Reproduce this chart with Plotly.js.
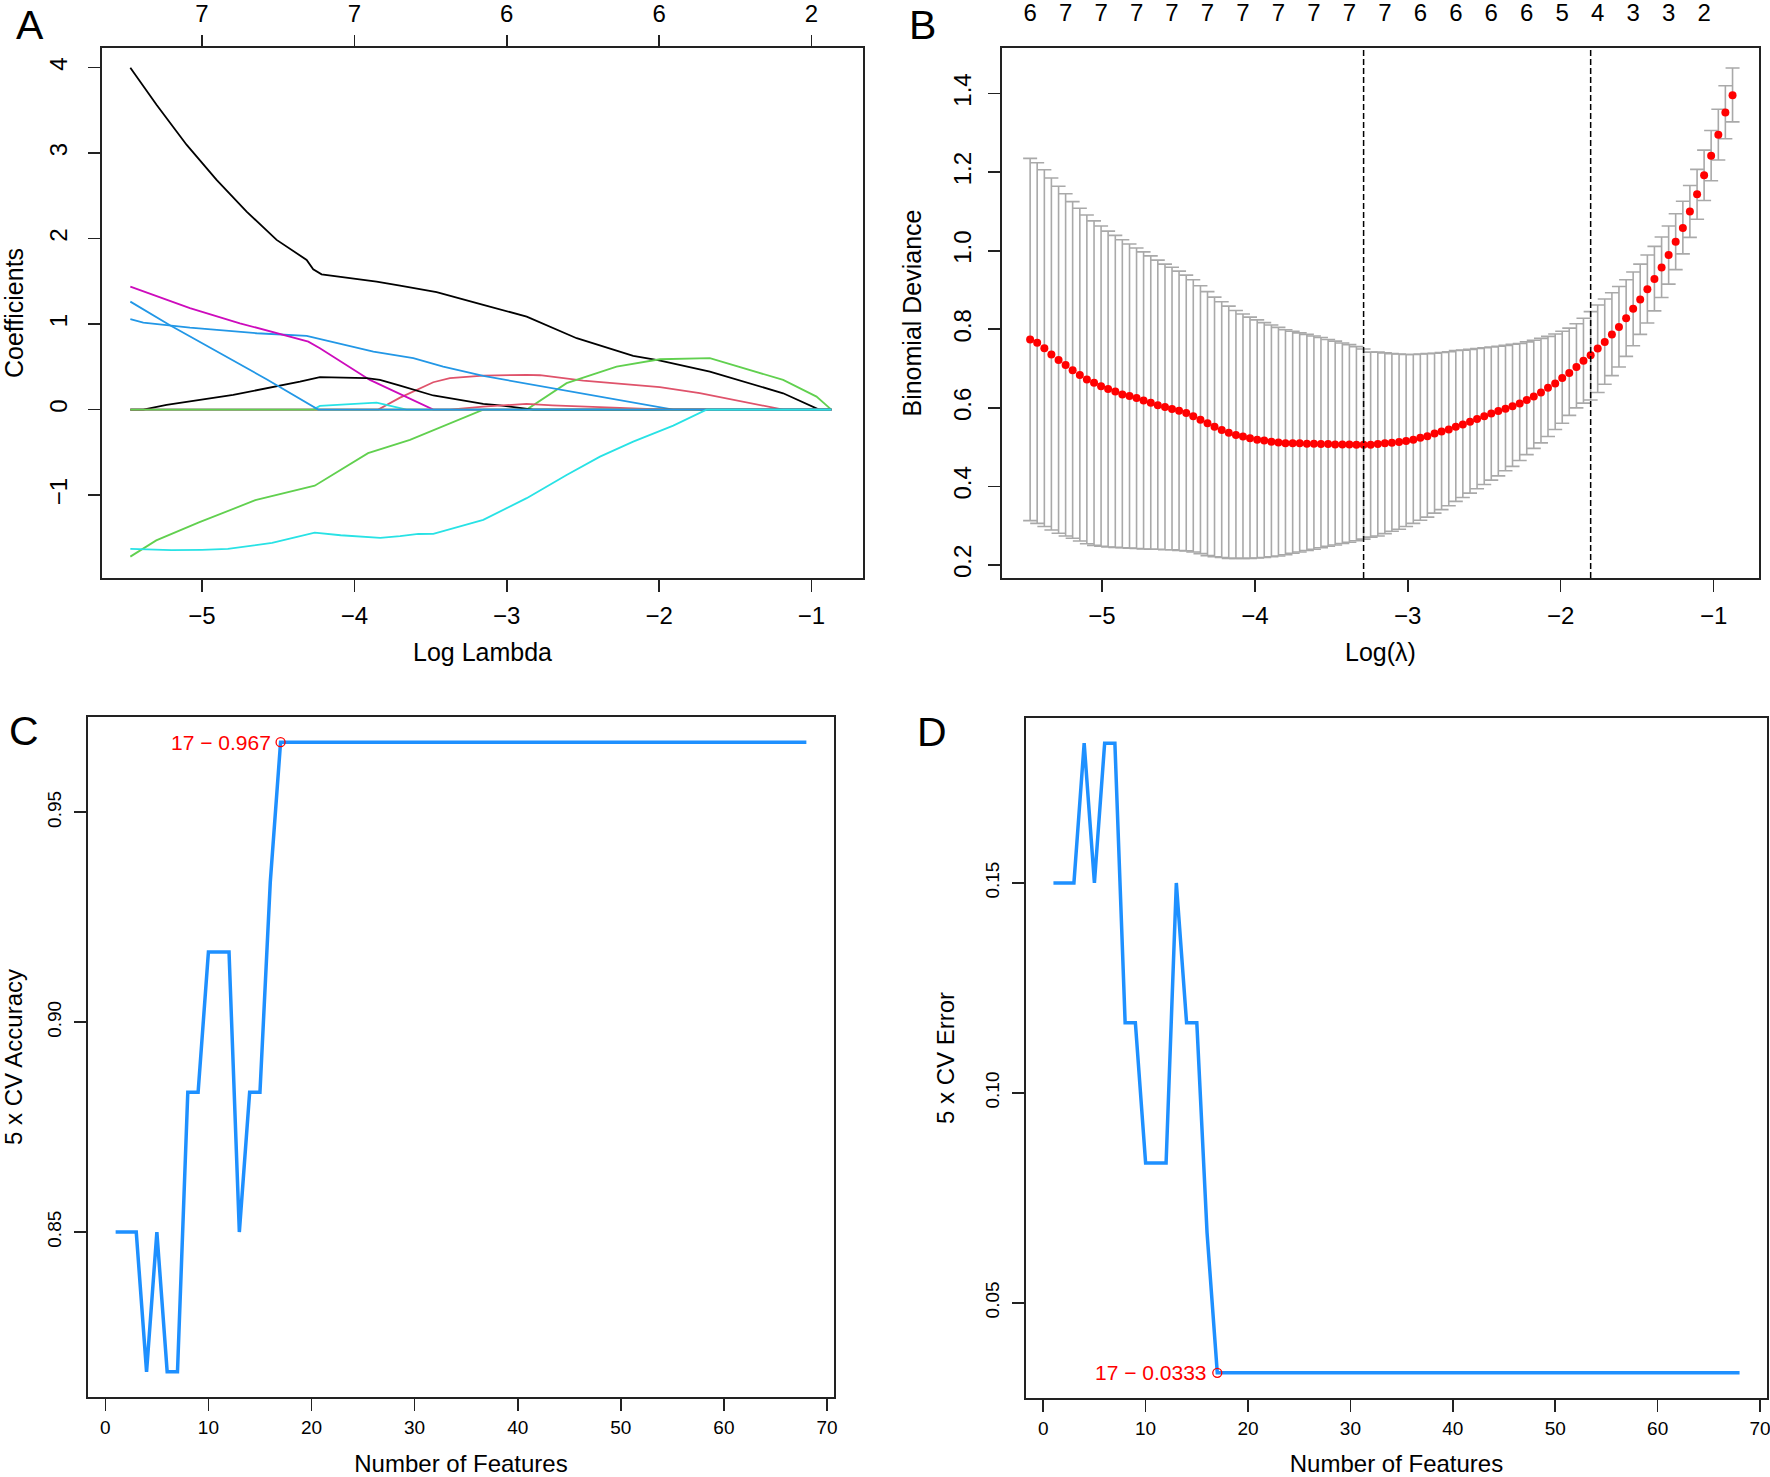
<!DOCTYPE html>
<html>
<head>
<meta charset="utf-8">
<script src="https://cdn.plot.ly/plotly-3.0.1.min.js"></script>
<style>html,body{margin:0;padding:0;background:#fff}#chart{width:1770px;height:1477px}</style>
</head>
<body>
<div id="chart"></div>
<script>
// ---------------- Panel A: coefficient paths ----------------
const aBlackBigX = [-5.47,-5.297,-5.10,-4.904,-4.707,-4.51,-4.313,-4.27,-4.215,-3.854,-3.70,-3.46,-3.154,-2.869,-2.541,-2.17,-2.0,-1.667,-1.186,-0.95,-0.87];
const aBlackBigY = [4.0,3.564,3.096,2.687,2.316,1.985,1.751,1.642,1.583,1.497,1.45,1.373,1.225,1.088,0.835,0.628,0.575,0.445,0.191,0,0];
const aRedBigX = [-5.47,-3.843,-3.70,-3.482,-3.373,-3.154,-2.87,-2.782,-2.498,-1.995,-1.733,-1.514,-1.186,-0.87];
const aRedBigY = [0,0,0.14,0.32,0.367,0.398,0.406,0.402,0.339,0.262,0.192,0.113,0,0];
const aGreenBigX = [-5.47,-5.30,-5.02,-4.65,-4.26,-3.91,-3.635,-3.394,-3.154,-2.869,-2.607,-2.279,-1.995,-1.667,-1.514,-1.186,-0.967,-0.87];
const aGreenBigY = [-1.72,-1.53,-1.32,-1.06,-0.89,-0.51,-0.354,-0.179,0,0,0.309,0.503,0.589,0.601,0.523,0.347,0.152,0];
const aBlueShallowX = [-5.47,-5.385,-5.079,-4.641,-4.313,-4.204,-3.875,-3.613,-3.417,-3.154,-2.78,-2.388,-1.907,-0.87];
const aBlueShallowY = [1.057,1.018,0.959,0.893,0.862,0.815,0.678,0.601,0.503,0.394,0.277,0.152,0,0];
const aCyanSmallX = [-5.47,-4.27,-4.226,-3.854,-3.657,-0.87];
const aCyanSmallY = [0,0,0.043,0.082,0,0];
const aMagentaX = [-5.47,-5.079,-4.751,-4.423,-4.302,-4.226,-4.007,-3.898,-3.482,-0.87];
const aMagentaY = [1.439,1.186,1.010,0.854,0.795,0.718,0.464,0.347,0,0];
const aBlackSmallX = [-5.47,-5.385,-5.232,-4.795,-4.357,-4.226,-3.919,-3.832,-3.70,-3.482,-3.154,-3.045,-2.826,-0.87];
const aBlackSmallY = [0,0,0.055,0.172,0.327,0.379,0.367,0.347,0.28,0.165,0.067,0.05,0,0];
const aRedSmallX = [-5.47,-3.373,-3.154,-3.0,-2.87,-2.70,-2.498,-2.2,-1.95,-0.87];
const aRedSmallY = [0,0,0.035,0.055,0.067,0.05,0.035,0.017,0,0];
const aGreenZeroX = [-5.47,-0.87];
const aGreenZeroY = [0,0];
const aBlueSteepX = [-5.47,-5.21,-4.576,-4.237,-0.87];
const aBlueSteepY = [1.263,0.987,0.355,0,0];
const aCyanBigX = [-5.47,-5.2,-5.0,-4.83,-4.54,-4.26,-4.09,-3.83,-3.70,-3.58,-3.482,-3.154,-2.869,-2.607,-2.388,-2.17,-1.907,-1.689,-0.87];
const aCyanBigY = [-1.63,-1.645,-1.64,-1.63,-1.56,-1.44,-1.47,-1.50,-1.48,-1.455,-1.454,-1.29,-1.036,-0.764,-0.55,-0.374,-0.187,0,0];
const aTickVals = [-5,-4,-3,-2,-1];
const aYTickVals = [-1,0,1,2,3,4];
const aTopPos = [-5,-4,-3,-2,-1];
const aTopLabels = ['7','7','6','6','2'];

// ---------------- Panel B: cross-validated deviance ----------------
const bLogLambda = [
-5.470,-5.424,-5.377,-5.331,-5.284,-5.238,-5.192,-5.145,-5.099,-5.052,
-5.006,-4.960,-4.913,-4.867,-4.820,-4.774,-4.728,-4.681,-4.635,-4.588,
-4.542,-4.496,-4.449,-4.403,-4.356,-4.310,-4.264,-4.217,-4.171,-4.124,
-4.078,-4.032,-3.985,-3.939,-3.892,-3.846,-3.800,-3.753,-3.707,-3.660,
-3.614,-3.568,-3.521,-3.475,-3.428,-3.382,-3.336,-3.289,-3.243,-3.196,
-3.150,-3.104,-3.057,-3.011,-2.964,-2.918,-2.872,-2.825,-2.779,-2.732,
-2.686,-2.640,-2.593,-2.547,-2.500,-2.454,-2.408,-2.361,-2.315,-2.268,
-2.222,-2.176,-2.129,-2.083,-2.036,-1.990,-1.944,-1.897,-1.851,-1.804,
-1.758,-1.712,-1.665,-1.619,-1.572,-1.526,-1.480,-1.433,-1.387,-1.340,
-1.294,-1.248,-1.201,-1.155,-1.108,-1.062,-1.016,-0.969,-0.923,-0.876];
const bMean = [
0.774,0.766,0.752,0.736,0.722,0.709,0.696,0.684,0.672,0.664,
0.655,0.648,0.642,0.634,0.630,0.625,0.619,0.613,0.607,0.602,
0.597,0.593,0.587,0.579,0.570,0.561,0.552,0.544,0.537,0.531,
0.527,0.523,0.519,0.517,0.514,0.512,0.510,0.510,0.510,0.509,
0.509,0.508,0.508,0.507,0.507,0.507,0.506,0.506,
0.506,0.508,0.510,0.511,0.513,0.516,0.519,0.524,0.528,0.535,
0.540,0.545,0.552,0.558,0.565,0.572,0.579,0.586,0.592,0.598,
0.604,0.611,0.620,0.629,0.639,0.651,0.662,0.676,0.689,0.704,
0.720,0.734,0.751,0.768,0.787,0.806,0.828,0.852,0.876,0.902,
0.928,0.957,0.989,1.023,1.058,1.100,1.144,1.192,1.242,1.295,
1.352,1.396];
const bUpper = [
1.235,1.224,1.206,1.185,1.164,1.145,1.125,1.108,1.091,1.076,
1.063,1.050,1.039,1.028,1.017,1.007,0.997,0.987,0.976,0.966,
0.958,0.948,0.938,0.926,0.911,0.896,0.882,0.870,0.859,0.848,
0.839,0.831,0.824,0.817,0.811,0.805,0.799,0.795,0.791,0.787,
0.783,0.779,0.774,0.770,0.765,0.761,0.756,0.750,
0.742,0.742,0.740,0.738,0.737,0.736,0.736,0.737,0.738,0.739,
0.741,0.743,0.746,0.747,0.749,0.751,0.753,0.755,0.757,0.759,
0.762,0.764,0.768,0.772,0.777,0.782,0.788,0.795,0.803,0.814,
0.828,0.845,0.862,0.877,0.893,0.909,0.926,0.946,0.966,0.989,
1.011,1.035,1.063,1.094,1.126,1.166,1.207,1.256,1.306,1.360,
1.420,1.465];
const bLower = [
0.313,0.306,0.298,0.289,0.281,0.274,0.268,0.261,0.254,0.250,
0.248,0.246,0.245,0.244,0.243,0.242,0.241,0.240,0.240,0.239,
0.239,0.237,0.236,0.233,0.229,0.224,0.221,0.219,0.217,0.217,
0.217,0.217,0.218,0.219,0.221,0.223,0.226,0.230,0.233,0.237,
0.240,0.244,0.248,0.251,0.255,0.258,0.262,0.266,
0.271,0.274,0.280,0.286,0.291,0.298,0.306,0.314,0.322,0.332,
0.341,0.351,0.362,0.372,0.383,0.394,0.405,0.416,0.427,0.440,
0.451,0.466,0.481,0.497,0.511,0.527,0.545,0.561,0.581,0.600,
0.612,0.620,0.639,0.660,0.682,0.704,0.731,0.758,0.787,0.816,
0.847,0.881,0.915,0.952,0.992,1.034,1.080,1.128,1.178,1.231,
1.285,1.328];
const bLambdaMin = -3.289;
const bLambda1se = -1.804;
const bTopPos = [-5.470,-5.238,-5.006,-4.774,-4.542,-4.310,-4.078,-3.846,-3.614,-3.382,-3.150,-2.918,-2.686,-2.454,-2.222,-1.990,-1.758,-1.526,-1.294,-1.062];
const bTopLabels = ['6','7','7','7','7','7','7','7','7','7','7','6','6','6','6','5','4','3','3','2'];
const bYTickVals = [0.2,0.4,0.6,0.8,1.0,1.2,1.4];
const bYTickText = ['0.2','0.4','0.6','0.8','1.0','1.2','1.4'];

// ---------------- Panels C & D: feature selection CV ----------------
const features = [1,2,3,4,5,6,7,8,9,10,11,12,13,14,15,16,17,18,19,20,21,22,23,24,25,26,27,28,29,30,31,32,33,34,35,36,37,38,39,40,41,42,43,44,45,46,47,48,49,50,51,52,53,54,55,56,57,58,59,60,61,62,63,64,65,66,67,68];
const cAccuracy = [0.85,0.85,0.85,0.8167,0.85,0.8167,0.8167,0.8833,0.8833,0.9167,0.9167,0.9167,0.85,0.8833,0.8833,0.9333,0.9667,
0.9667,0.9667,0.9667,0.9667,0.9667,0.9667,0.9667,0.9667,0.9667,0.9667,0.9667,0.9667,0.9667,0.9667,0.9667,0.9667,0.9667,
0.9667,0.9667,0.9667,0.9667,0.9667,0.9667,0.9667,0.9667,0.9667,0.9667,0.9667,0.9667,0.9667,0.9667,0.9667,0.9667,0.9667,
0.9667,0.9667,0.9667,0.9667,0.9667,0.9667,0.9667,0.9667,0.9667,0.9667,0.9667,0.9667,0.9667,0.9667,0.9667,0.9667,0.9667];
const dError = [0.15,0.15,0.15,0.1833,0.15,0.1833,0.1833,0.1167,0.1167,0.0833,0.0833,0.0833,0.15,0.1167,0.1167,0.0667,0.0333,
0.0333,0.0333,0.0333,0.0333,0.0333,0.0333,0.0333,0.0333,0.0333,0.0333,0.0333,0.0333,0.0333,0.0333,0.0333,0.0333,0.0333,
0.0333,0.0333,0.0333,0.0333,0.0333,0.0333,0.0333,0.0333,0.0333,0.0333,0.0333,0.0333,0.0333,0.0333,0.0333,0.0333,0.0333,
0.0333,0.0333,0.0333,0.0333,0.0333,0.0333,0.0333,0.0333,0.0333,0.0333,0.0333,0.0333,0.0333,0.0333,0.0333,0.0333,0.0333];
const cBestN = 17, cBestAcc = 0.9667;
const dBestN = 17, dBestErr = 0.0333;
const cdXTicks = [0,10,20,30,40,50,60,70];
const cYTickVals = [0.85,0.90,0.95];
const cYTickText = ['0.85','0.90','0.95'];
const dYTickVals = [0.05,0.10,0.15];
const dYTickText = ['0.05','0.10','0.15'];

// ---------------- styles ----------------
const FONT = 'Liberation Sans, Arial, Helvetica, sans-serif';
const COL = {black:'#000000', red:'#DF536B', green:'#61D04F', blue:'#2297E6', cyan:'#28E2E5', magenta:'#CD0BBC'};

function pathTrace(x, y, color) {
  return {x: x, y: y, type: 'scatter', mode: 'lines', xaxis: 'x', yaxis: 'y',
          line: {color: color, width: 1.8}, hoverinfo: 'skip', showlegend: false};
}

const traces = [
  pathTrace(aBlackBigX, aBlackBigY, COL.black),
  pathTrace(aRedBigX, aRedBigY, COL.red),
  pathTrace(aGreenBigX, aGreenBigY, COL.green),
  pathTrace(aBlueShallowX, aBlueShallowY, COL.blue),
  pathTrace(aCyanSmallX, aCyanSmallY, COL.cyan),
  pathTrace(aMagentaX, aMagentaY, COL.magenta),
  pathTrace(aBlackSmallX, aBlackSmallY, COL.black),
  pathTrace(aRedSmallX, aRedSmallY, COL.red),
  pathTrace(aGreenZeroX, aGreenZeroY, COL.green),
  pathTrace(aBlueSteepX, aBlueSteepY, COL.blue),
  pathTrace(aCyanBigX, aCyanBigY, COL.cyan),
  {x: aTopPos, y: aTopPos.map(() => 0), xaxis: 'x2', yaxis: 'y', type: 'scatter', mode: 'markers',
   marker: {opacity: 0}, hoverinfo: 'skip', showlegend: false},
  {x: bLogLambda, y: bMean, xaxis: 'x3', yaxis: 'y2', type: 'scatter', mode: 'markers',
   marker: {color: '#FF0000', size: 8},
   error_y: {type: 'data', symmetric: false,
             array: bUpper.map((u, i) => u - bMean[i]),
             arrayminus: bLower.map((l, i) => bMean[i] - l),
             color: '#A9A9A9', thickness: 1.6, width: 7},
   hoverinfo: 'skip', showlegend: false},
  {x: bTopPos, y: bTopPos.map(() => 1), xaxis: 'x4', yaxis: 'y2', type: 'scatter', mode: 'markers',
   marker: {opacity: 0}, hoverinfo: 'skip', showlegend: false},
  {x: features, y: cAccuracy, xaxis: 'x5', yaxis: 'y3', type: 'scatter', mode: 'lines',
   line: {color: '#1E90FF', width: 3.5}, hoverinfo: 'skip', showlegend: false},
  {x: [cBestN], y: [cBestAcc], xaxis: 'x5', yaxis: 'y3', type: 'scatter', mode: 'markers',
   marker: {symbol: 'circle-open', color: '#FF0000', size: 9, line: {width: 1.3}}, hoverinfo: 'skip', showlegend: false},
  {x: features, y: dError, xaxis: 'x6', yaxis: 'y4', type: 'scatter', mode: 'lines',
   line: {color: '#1E90FF', width: 3.5}, hoverinfo: 'skip', showlegend: false},
  {x: [dBestN], y: [dBestErr], xaxis: 'x6', yaxis: 'y4', type: 'scatter', mode: 'markers',
   marker: {symbol: 'circle-open', color: '#FF0000', size: 9, line: {width: 1.3}}, hoverinfo: 'skip', showlegend: false}
];

function ax(extra, tickSize) {
  return Object.assign({
    showline: true, linecolor: '#222', linewidth: 1.8, mirror: true,
    ticks: 'outside', ticklen: 12, tickwidth: 1.6, tickcolor: '#222',
    showgrid: false, zeroline: false, fixedrange: true, ticklabeloverflow: 'allow',
    tickfont: {family: FONT, size: tickSize, color: '#000'}
  }, extra);
}
function ttl(text, size, standoff) {
  return {text: text, font: {family: FONT, size: size, color: '#000'}, standoff: standoff};
}

const W = 1770, H = 1477;
const dx = (a, b) => [a / W, b / W];
const dy = (top, bottom) => [1 - bottom / H, 1 - top / H];

const layout = {
  width: W, height: H,
  margin: {l: 0, r: 0, t: 0, b: 0},
  paper_bgcolor: '#fff', plot_bgcolor: '#fff',
  font: {family: FONT, color: '#000'},
  showlegend: false,
  xaxis: ax({domain: dx(102, 863), range: [-5.656, -0.662], anchor: 'y', tickvals: aTickVals,
             ticklabelstandoff: 3, title: ttl('Log Lambda', 25, 16)}, 24),
  yaxis: ax({domain: dy(48, 578), range: [-1.97, 4.23], anchor: 'x', tickvals: aYTickVals,
             tickangle: -90, ticklabelstandoff: 12, title: ttl('Coefficients', 25, 16)}, 24),
  xaxis2: ax({overlaying: 'x', side: 'top', anchor: 'y', range: [-5.656, -0.662], showline: false,
              tickvals: aTopPos, ticktext: aTopLabels, ticklabelstandoff: 3}, 24),
  xaxis3: ax({domain: dx(1002, 1759), range: [-5.654, -0.703], anchor: 'y2', tickvals: aTickVals,
              ticklabelstandoff: 3, title: ttl('Log(λ)', 25, 16)}, 24),
  yaxis2: ax({domain: dy(48, 578), range: [0.167, 1.516], anchor: 'x3', tickvals: bYTickVals, ticktext: bYTickText,
              tickangle: -90, ticklabelstandoff: 8, title: ttl('Binomial Deviance', 25, 20)}, 24),
  xaxis4: ax({overlaying: 'x3', side: 'top', anchor: 'y2', range: [-5.654, -0.703], showline: false,
              ticks: '', tickvals: bTopPos, ticktext: bTopLabels, ticklabelstandoff: 21}, 24),
  xaxis5: ax({domain: dx(88, 834), range: [-1.68, 70.68], anchor: 'y3', tickvals: cdXTicks,
              ticklabelstandoff: 0, title: ttl('Number of Features', 24, 21)}, 19),
  yaxis3: ax({domain: dy(717, 1397), range: [0.8107, 0.9727], anchor: 'x5', tickvals: cYTickVals, ticktext: cYTickText,
              tickangle: -90, ticklabelstandoff: 6, title: ttl('5 x CV Accuracy', 24, 20)}, 19),
  xaxis6: ax({domain: dx(1026, 1767), range: [-1.68, 70.68], anchor: 'y4', tickvals: cdXTicks,
              ticklabelstandoff: 0, title: ttl('Number of Features', 24, 21)}, 19),
  yaxis4: ax({domain: dy(718, 1398), range: [0.0273, 0.1893], anchor: 'x6', tickvals: dYTickVals, ticktext: dYTickText,
              tickangle: -90, ticklabelstandoff: 6, title: ttl('5 x CV Error', 24, 20)}, 19),
  shapes: [
    {type: 'line', xref: 'x3', yref: 'y2 domain', x0: bLambdaMin, x1: bLambdaMin, y0: 0, y1: 1,
     line: {color: '#000', width: 1.5, dash: '6px,3px'}},
    {type: 'line', xref: 'x3', yref: 'y2 domain', x0: bLambda1se, x1: bLambda1se, y0: 0, y1: 1,
     line: {color: '#000', width: 1.5, dash: '6px,3px'}}
  ],
  annotations: [
    {text: 'A', xref: 'paper', yref: 'paper', x: 30 / W, y: 1 - 25 / H, showarrow: false,
     font: {family: FONT, size: 41, color: '#000'}, xanchor: 'center', yanchor: 'middle'},
    {text: 'B', xref: 'paper', yref: 'paper', x: 923 / W, y: 1 - 25 / H, showarrow: false,
     font: {family: FONT, size: 41, color: '#000'}, xanchor: 'center', yanchor: 'middle'},
    {text: 'C', xref: 'paper', yref: 'paper', x: 24 / W, y: 1 - 731 / H, showarrow: false,
     font: {family: FONT, size: 41, color: '#000'}, xanchor: 'center', yanchor: 'middle'},
    {text: 'D', xref: 'paper', yref: 'paper', x: 932 / W, y: 1 - 732 / H, showarrow: false,
     font: {family: FONT, size: 41, color: '#000'}, xanchor: 'center', yanchor: 'middle'},
    {text: cBestN + ' \u2212 ' + cBestAcc.toPrecision(3), xref: 'x5', yref: 'y3', x: cBestN, y: cBestAcc,
     showarrow: false, xanchor: 'right', yanchor: 'middle', xshift: -8,
     font: {family: FONT, size: 21, color: '#FF0000'}},
    {text: dBestN + ' \u2212 ' + dBestErr.toPrecision(3), xref: 'x6', yref: 'y4', x: dBestN, y: dBestErr,
     showarrow: false, xanchor: 'right', yanchor: 'middle', xshift: -8,
     font: {family: FONT, size: 21, color: '#FF0000'}}
  ]
};

Plotly.newPlot('chart', traces, layout, {displayModeBar: false, staticPlot: true});
</script>
</body>
</html>
